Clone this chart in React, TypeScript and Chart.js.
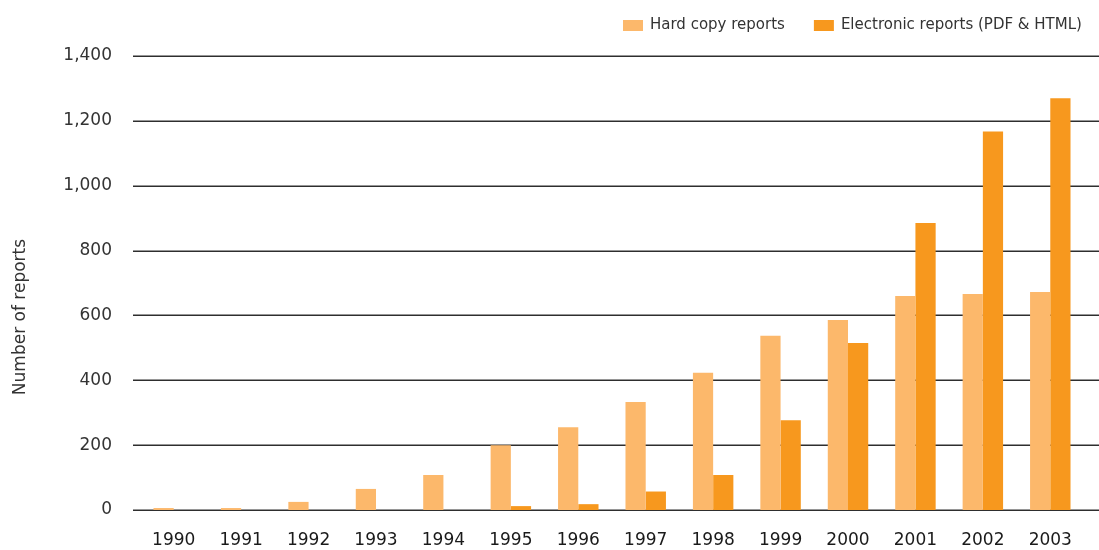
import { useEffect, useRef } from "react";
import { Chart, registerables } from "chart.js";

Chart.register(...registerables);

const years = ["1990", "1991", "1992", "1993", "1994", "1995", "1996", "1997", "1998", "1999", "2000", "2001", "2002", "2003"];
const hardCopy = [6, 6, 25, 65, 108, 200, 255, 333, 423, 537, 586, 660, 666, 672];
const electronic = [0, 0, 0, 0, 0, 12, 18, 57, 108, 277, 515, 885, 1167, 1270];
const yTicks = [0, 200, 400, 600, 800, 1000, 1200, 1400];
const seriesLabels = ["Hard copy reports", "Electronic reports (PDF & HTML)"];
const seriesColors = ["#FCB86B", "#F7981E"];
const yTitle = "Number of reports";

const FONT = "'DejaVu Sans', sans-serif";

const gridPlugin = {
  id: "customGrid",
  beforeDatasetsDraw(chart: any) {
    const { ctx } = chart;
    const y = chart.scales.y;
    ctx.save();
    ctx.strokeStyle = "#2e2e2e";
    ctx.lineWidth = 1.6;
    yTicks.forEach((v) => {
      const py = Math.round(y.getPixelForValue(v)) + 0.25;
      ctx.beginPath();
      ctx.moveTo(chart.chartArea.left - 7, py);
      ctx.lineTo(chart.width, py);
      ctx.stroke();
    });
    ctx.restore();
  },
};

const decorPlugin = {
  id: "decor",
  afterDraw(chart: any) {
    const { ctx } = chart;
    ctx.save();
    // legend
    ctx.font = `15px ${FONT}`;
    ctx.textBaseline = "middle";
    ctx.textAlign = "left";
    let x = 623;
    chart.data.datasets.forEach((ds: any) => {
      ctx.fillStyle = ds.backgroundColor;
      ctx.fillRect(x, 20, 20, 11);
      ctx.fillStyle = "#333333";
      ctx.fillText(ds.label, x + 27, 25);
      x += 27 + ctx.measureText(ds.label).width + 29;
    });
    // y title
    ctx.font = `17px ${FONT}`;
    ctx.fillStyle = "#333333";
    ctx.textAlign = "center";
    ctx.translate(21, 317);
    ctx.rotate(-Math.PI / 2);
    ctx.fillText(yTitle, 0, 0);
    ctx.restore();
  },
};

export default function App() {
  const ref = useRef<HTMLCanvasElement | null>(null);
  useEffect(() => {
    if (!ref.current) return;
    const chart = new Chart(ref.current, {
      type: "bar",
      data: {
        labels: years,
        datasets: [
          { label: seriesLabels[0], data: hardCopy, backgroundColor: seriesColors[0], borderWidth: 0 },
          { label: seriesLabels[1], data: electronic, backgroundColor: seriesColors[1], borderWidth: 0 },
        ],
      },
      options: {
        animation: false,
        responsive: true,
        maintainAspectRatio: false,
        layout: { padding: { top: 56, right: 15, bottom: 0, left: 0 } },
        datasets: { bar: { categoryPercentage: 0.6, barPercentage: 1 } },
        plugins: { legend: { display: false }, tooltip: { enabled: false } },
        scales: {
          x: {
            grid: { display: false, drawTicks: false },
            border: { display: false },
            ticks: { color: "#1a1a1a", font: { family: FONT, size: 17 }, padding: 20, maxRotation: 0 },
            afterFit: (s: any) => { s.height = 40; },
          },
          y: {
            min: 0,
            max: 1400,
            grid: { display: false, drawTicks: false },
            border: { display: false },
            ticks: {
              color: "#333333",
              font: { family: FONT, size: 17 },
              padding: 28,
              callback: (v: any) => Number(v).toLocaleString("en-US"),
            },
            afterBuildTicks: (s: any) => { s.ticks = yTicks.map((v) => ({ value: v })); },
            afterFit: (s: any) => { s.width = 140; },
          },
        },
      },
      plugins: [gridPlugin, decorPlugin],
    });
    return () => chart.destroy();
  }, []);
  return (
    <div style={{ position: "absolute", left: 0, top: 0, width: 1099, height: 550, background: "#fff" }}>
      <canvas ref={ref} />
    </div>
  );
}
